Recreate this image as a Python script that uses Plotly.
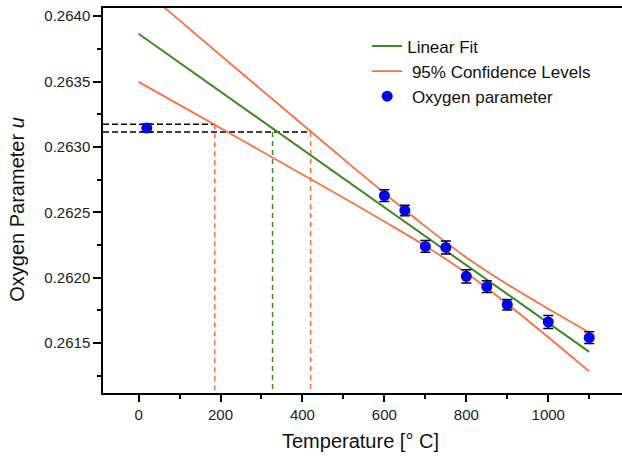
import plotly.graph_objects as go

# ---- data ----
temperature = [20, 600, 650, 700, 750, 800, 850, 900, 1000, 1100]
oxygen_u = [0.263145, 0.262628, 0.262515, 0.262240, 0.262232, 0.262011,
            0.261932, 0.261794, 0.261662, 0.261542]
oxygen_err = [0.000030, 0.000045, 0.000040, 0.000045, 0.000050, 0.000050,
              0.000045, 0.000040, 0.000050, 0.000045]

fit_T = [0, 1100]
fit_u = [0.263866, 0.261433]

ci_T = [0, 100, 200, 300, 400, 500, 600, 700, 800, 900, 1000, 1100]
ci_upper = [0.264234, 0.263968, 0.263702, 0.263437, 0.263172, 0.262908,
            0.262647, 0.262393, 0.262156, 0.261951, 0.261763, 0.261582]
ci_lower = [0.263498, 0.263322, 0.263145, 0.262968, 0.262790, 0.262612,
            0.262430, 0.262243, 0.262036, 0.261800, 0.261545, 0.261284]

# guide levels (room-temperature value +/- error) and their crossings
level_hi = 0.263175
level_lo = 0.263115
T_cross_ci_lower = 186
T_cross_fit = 327
T_cross_ci_upper = 420

x_range = [-86.8, 1180]
y_range = [0.261119, 0.264063]

x_title = "Temperature [° C]"
y_title = "Oxygen Parameter <i>u</i>"

GREEN = "#3f8a1f"
ORANGE = "#ff7040"
FONT = "Liberation Sans, Arial, sans-serif"

fig = go.Figure()

# dashed guide lines
guide = dict(mode="lines", showlegend=False, hoverinfo="skip")
fig.add_trace(go.Scatter(x=[x_range[0], T_cross_ci_lower], y=[level_hi, level_hi],
                         line=dict(color="black", width=1.5, dash="6px,3px"), **guide))
fig.add_trace(go.Scatter(x=[x_range[0], T_cross_ci_upper], y=[level_lo, level_lo],
                         line=dict(color="black", width=1.5, dash="6px,3px"), **guide))
fig.add_trace(go.Scatter(x=[T_cross_ci_lower, T_cross_ci_lower], y=[level_hi, y_range[0]],
                         line=dict(color=ORANGE, width=1.5, dash="5px,4px"), **guide))
fig.add_trace(go.Scatter(x=[T_cross_fit, T_cross_fit], y=[level_lo, y_range[0]],
                         line=dict(color=GREEN, width=1.5, dash="5px,4px"), **guide))
fig.add_trace(go.Scatter(x=[T_cross_ci_upper, T_cross_ci_upper], y=[level_lo, y_range[0]],
                         line=dict(color=ORANGE, width=1.5, dash="5px,4px"), **guide))

# confidence levels
fig.add_trace(go.Scatter(x=ci_T, y=ci_upper, mode="lines", name="\u00a095% Confidence Levels",
                         line=dict(color=ORANGE, width=1.8, shape="spline"), legendrank=2))
fig.add_trace(go.Scatter(x=ci_T, y=ci_lower, mode="lines", showlegend=False,
                         line=dict(color=ORANGE, width=1.8, shape="spline")))

# linear fit
fig.add_trace(go.Scatter(x=fit_T, y=fit_u, mode="lines", name="Linear Fit",
                         line=dict(color=GREEN, width=2), legendrank=1))

# data
fig.add_trace(go.Scatter(x=temperature, y=oxygen_u, mode="markers", name="\u00a0Oxygen parameter",
                         marker=dict(color="#0000ff", size=11),
                         error_y=dict(type="data", array=oxygen_err, color="black",
                                      thickness=1.5, width=5),
                         legendrank=3))

axis_common = dict(showline=True, linecolor="black", linewidth=1.5, showgrid=False,
                   zeroline=False, ticks="outside", tickcolor="black", tickwidth=1.5,
                   automargin=False,
                   tickfont=dict(family=FONT, size=15, color="#222"))

fig.update_xaxes(range=x_range, tick0=0, dtick=200, ticklen=7, mirror=True,
                 minor=dict(dtick=100, ticks="outside", ticklen=4, tickcolor="black", tickwidth=1.5),
                 **axis_common)
fig.update_yaxes(range=y_range, tick0=0.2615, dtick=0.0005, tickformat=".4f", ticklen=8,
                 minor=dict(dtick=0.00025, ticks="outside", ticklen=4, tickcolor="black", tickwidth=1.5),
                 **axis_common)

title_font = dict(family=FONT, size=20, color="#111")
fig.add_annotation(text=x_title, xref="paper", yref="paper", x=0.497, y=-0.124,
                   xanchor="center", yanchor="middle", showarrow=False, font=title_font)
fig.add_annotation(text=y_title, xref="paper", yref="paper", x=-0.1657, y=0.476,
                   xanchor="center", yanchor="middle", textangle=-90, showarrow=False,
                   font=title_font)

fig.update_layout(
    width=622, height=458,
    margin=dict(l=103, r=0, t=8, b=65),
    paper_bgcolor="white", plot_bgcolor="white",
    font=dict(family=FONT),
    legend=dict(x=0.509, y=0.947, xanchor="left", yanchor="top",
                bgcolor="rgba(0,0,0,0)", font=dict(family=FONT, size=17, color="#111"),
                tracegroupgap=0),
)

fig.write_html("out.html", config={"displayModeBar": False},
               post_script="document.body.style.margin='0';document.body.style.overflow='hidden';")
